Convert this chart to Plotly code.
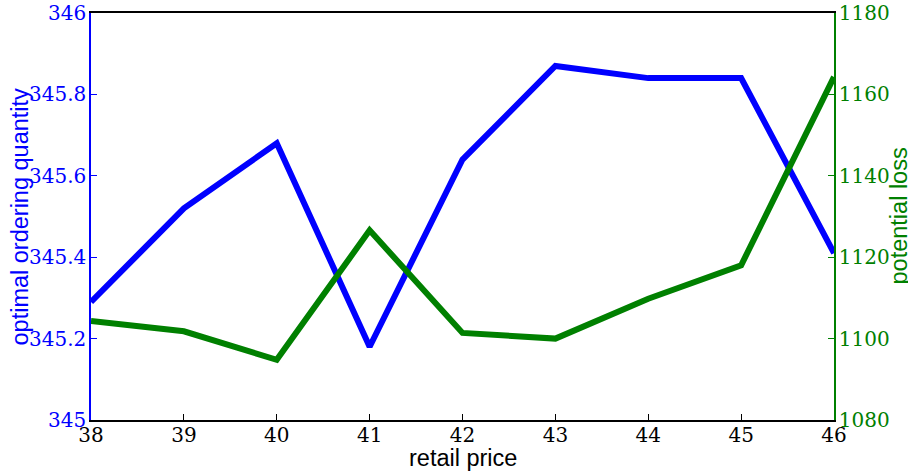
import plotly.graph_objects as go

retail_price = [38, 39, 40, 41, 42, 43, 44, 45, 46]
order_qty = [345.29, 345.52, 345.68, 345.18, 345.64, 345.87, 345.84, 345.84, 345.41]
potential_loss = [1104.3, 1101.8, 1094.8, 1126.6, 1101.4, 1100.0, 1109.8, 1118.0, 1164.3]

left_ticks = [345, 345.2, 345.4, 345.6, 345.8, 346]
left_ticktext = ["345", "345.2", "345.4", "345.6", "345.8", "346"]
right_ticks = [1080, 1100, 1120, 1140, 1160, 1180]
x_ticks = [38, 39, 40, 41, 42, 43, 44, 45, 46]

BLUE = "#0000FF"
GREEN = "#008000"
serif = "DejaVu Serif"
sans = "Liberation Sans"
TS = 20

fig = go.Figure()
fig.add_trace(go.Scatter(x=retail_price, y=order_qty, mode="lines",
                         line=dict(color=BLUE, width=6), yaxis="y", showlegend=False))
fig.add_trace(go.Scatter(x=retail_price, y=potential_loss, mode="lines",
                         line=dict(color=GREEN, width=6), yaxis="y2", showlegend=False))

fig.update_layout(
    width=908, height=471,
    margin=dict(l=91, r=74, t=13, b=51, autoexpand=False),
    paper_bgcolor="white", plot_bgcolor="white",
    xaxis=dict(range=[38, 46], tickvals=x_ticks, ticks="inside", ticklen=6,
               tickcolor="black", showline=True, linecolor="black", linewidth=1.5,
               mirror=True, showgrid=False, zeroline=False, automargin=False,
               ticklabelstandoff=-4, ticklabeloverflow="allow",
               tickfont=dict(family=serif, size=TS, color="black")),
    yaxis=dict(range=[345, 346], tickvals=left_ticks, ticktext=left_ticktext,
               ticks="inside", ticklen=6, tickcolor=BLUE,
               showline=True, linecolor=BLUE, linewidth=1.5, automargin=False,
               showgrid=False, zeroline=False, ticklabelstandoff=-1,
               ticklabeloverflow="allow",
               tickfont=dict(family=serif, size=TS, color=BLUE)),
    yaxis2=dict(range=[1080, 1180], tickvals=right_ticks, overlaying="y", side="right",
                ticks="inside", ticklen=6, tickcolor=GREEN, automargin=False,
                showline=True, linecolor=GREEN, linewidth=1.5, ticklabelstandoff=-1,
                ticklabeloverflow="allow",
                showgrid=False, zeroline=False,
                tickfont=dict(family=serif, size=TS, color=GREEN)),
    annotations=[
        dict(text="optimal ordering quantity", xref="paper", yref="paper",
             x=0, y=0.5, xanchor="center", yanchor="middle", xshift=-72,
             textangle=-90, showarrow=False,
             font=dict(family=sans, size=23.5, color=BLUE)),
        dict(text="potential loss", xref="paper", yref="paper",
             x=1, y=0.5, xanchor="center", yanchor="middle", xshift=64,
             textangle=-90, showarrow=False,
             font=dict(family=sans, size=23.5, color=GREEN)),
        dict(text="retail price", xref="paper", yref="paper",
             x=0.5, y=0, xanchor="center", yanchor="middle", yshift=-38,
             showarrow=False,
             font=dict(family=sans, size=23.5, color="black")),
    ],
)

fig.write_html("out.html", config={"displayModeBar": False},
               post_script="document.body.style.margin='0';document.body.style.padding='0';")
